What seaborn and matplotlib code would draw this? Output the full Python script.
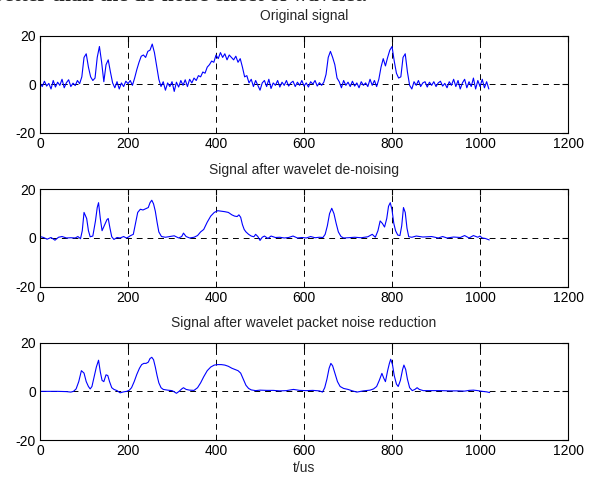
import numpy as np
import pandas as pd
import matplotlib
matplotlib.use("Agg")
import matplotlib.pyplot as plt
import seaborn as sns

# ---- data -------------------------------------------------------------
# raw measurement, one value every 5 us starting at t = 0
raw_step = 5
raw_signal = [
    0.5, -1.0, 1.2, -0.8, 0.3, -2.0, 1.5, -1.2, 0.8, -0.5, 2.0, -1.5, 0.6, 1.8, -1.0, 0.4, -0.6, 1.5, 0.2, 3.0,
    11.0, 12.5, 7.0, 3.0, 1.5, 2.5, 11.0, 15.5, 9.0, 1.0, 8.0, 10.0, 5.0, 0.5, -1.5, 1.0, -2.0, 0.5, -1.0, 1.2,
    0.2, 1.5, -0.5, 2.5, 6.0, 9.0, 11.5, 12.0, 11.0, 13.5, 14.0, 16.5, 13.0, 7.5, 2.0, -1.0, 1.0, -2.5, 0.5, -1.0,
    1.0, -3.0, 0.8, -1.2, 1.5, -0.5, 1.8, -1.0, 2.0, 0.5, 2.5, 1.5, 3.5, 3.0, 5.0, 4.5, 7.0, 8.0, 9.5, 9.0,
    12.0, 10.5, 13.0, 11.0, 12.5, 10.0, 12.0, 11.0, 10.0, 11.5, 9.0, 10.5, 7.0, 3.0, 3.5, 0.5, 2.0, -1.0, 1.5, -0.5,
    -2.5, 0.5, 1.5, -1.0, 2.0, -1.8, 0.5, -0.5, 1.5, -1.2, 0.8, -0.5, 1.5, -0.8, 0.5, 1.2, -1.0, 0.8, -0.5, 1.5,
    -0.8, 0.5, -1.2, 1.0, 0.0, 1.5, -0.8, 0.6, -0.5, 0.8, 4.0, 11.0, 13.5, 11.0, 8.0, 2.5, 1.0, -1.5, 1.5, -0.5,
    0.8, -1.0, 1.2, -0.8, 0.5, -1.5, 1.0, -0.5, 0.5, -1.0, 2.0, -0.5, 1.5, -1.0, 2.0, 7.0, 10.5, 7.5, 11.0, 14.0,
    15.5, 9.5, 4.5, 2.5, 3.0, 11.0, 12.5, 5.0, -0.5, -2.0, 1.0, -0.5, 1.5, -1.0, 0.5, 1.0, -1.2, 0.8, -0.5, 1.0,
    -1.0, 0.5, 1.2, -0.8, 0.3, -1.5, 1.0, -0.5, 2.0, -1.0, 1.5, -2.0, 0.5, 2.0, -1.5, 1.0, -1.0, 2.5, -2.0, 1.5,
    -1.0, 2.0, -1.5, 1.0, -2.0,
]
raw_t = np.arange(len(raw_signal)) * raw_step

# wavelet threshold de-noising result
wavelet_t = [
    0, 8, 16, 25, 34, 42, 50, 60, 70, 80,
    86, 92, 96, 100, 106, 110, 114, 120, 126, 130,
    133, 137, 141, 147, 152, 155, 159, 163, 168, 175,
    182, 190, 196, 200, 206, 212, 217, 222, 228, 234,
    240, 246, 250, 254, 258, 262, 266, 270, 276, 285,
    295, 305, 315, 322, 326, 332, 340, 350, 358, 365,
    372, 380, 388, 396, 404, 412, 420, 428, 436, 442,
    448, 452, 456, 460, 464, 468, 474, 480, 486, 490,
    495, 500, 505, 510, 518, 525, 535, 545, 555, 565,
    575, 585, 595, 605, 615, 625, 635, 643, 648, 653,
    658, 663, 668, 673, 678, 684, 690, 700, 715, 730,
    745, 755, 762, 768, 773, 778, 783, 788, 792, 796,
    800, 804, 808, 813, 818, 822, 826, 830, 834, 838,
    845, 855, 870, 890, 905, 915, 925, 940, 955, 965,
    975, 985, 995, 1000, 1005, 1012, 1021,
]
wavelet_signal = [
    0.6, 0.2, -0.5, 0.2, -0.9, 0.3, 0.6, 0.0, 0.1, 0.0,
    0.6, -0.3, 3.0, 10.5, 8.0, 3.0, 0.5, 0.8, 7.0, 12.5,
    14.5, 8.0, 3.0, 5.5, 7.5, 8.0, 4.0, 0.5, -0.6, 0.2,
    0.0, 0.6, 0.0, 0.3, 1.0, 1.5, 6.0, 10.5, 11.8, 11.5,
    12.0, 12.5, 14.5, 15.5, 14.0, 11.0, 6.5, 2.5, 0.6, 0.3,
    0.6, 0.9, 0.0, 0.6, 2.0, 0.6, 0.0, 0.3, 1.0, 2.5,
    3.5, 6.5, 9.0, 10.5, 11.2, 11.0, 10.8, 10.5, 9.5, 9.0,
    8.8, 9.5, 8.5, 5.5, 3.5, 2.5, 1.5, 0.8, 0.5, 1.5,
    0.6, -1.0, 0.3, 0.8, -0.2, 0.8, 0.2, 0.3, 0.0, 0.2,
    0.8, 0.0, 0.2, 0.0, 0.6, 0.1, 0.3, 0.2, 1.5, 5.0,
    10.0, 12.2, 10.0, 6.0, 2.5, 0.6, 0.0, 0.1, 0.3, 0.1,
    0.5, 1.5, 0.3, 3.0, 7.0, 6.0, 4.5, 8.0, 13.0, 14.5,
    11.5, 6.0, 3.0, 1.2, 1.0, 5.0, 12.5, 10.5, 4.0, 0.5,
    0.3, 0.8, 0.4, 0.6, 0.0, 0.6, 0.0, 0.4, 0.2, 1.0,
    0.0, 1.0, 0.3, 0.8, 0.0, -0.2, -0.8,
]

# wavelet packet noise reduction result
packet_t = [
    0, 20, 40, 60, 70, 76, 82, 88, 94, 100,
    105, 110, 114, 118, 123, 128, 133, 137, 141, 145,
    150, 154, 158, 163, 168, 175, 182, 190, 197, 203,
    208, 214, 220, 226, 231, 236, 241, 246, 250, 254,
    258, 262, 266, 270, 275, 280, 290, 300, 305, 310,
    316, 322, 326, 332, 340, 350, 358, 365, 372, 380,
    388, 396, 404, 412, 420, 428, 436, 443, 450, 456,
    462, 468, 474, 480, 490, 500, 515, 530, 545, 560,
    576, 590, 605, 620, 635, 642, 647, 652, 657, 661,
    665, 670, 676, 682, 690, 700, 710, 720, 735, 750,
    758, 765, 771, 777, 781, 785, 790, 794, 797, 801,
    805, 810, 814, 819, 824, 827, 831, 835, 840, 846,
    852, 857, 862, 871, 890, 910, 930, 950, 965, 975,
    985, 995, 1005, 1015, 1022,
]
packet_signal = [
    0.0, 0.0, 0.0, -0.1, -0.3, 0.0, 1.0, 4.0, 8.5, 7.5,
    4.0, 2.0, 1.0, 2.0, 6.0, 10.0, 12.8, 8.0, 4.5, 4.0,
    6.8, 6.5, 4.0, 1.5, 0.8, 0.3, -0.6, -0.2, 0.0, 0.5,
    1.5, 4.0, 7.0, 9.5, 11.0, 11.5, 11.5, 12.0, 13.5, 14.0,
    13.0, 10.0, 6.5, 3.5, 1.5, 0.8, 0.5, 0.3, -0.2, -0.8,
    0.0, 1.0, 1.5, 0.8, 0.5, 0.4, 1.5, 3.5, 6.0, 8.5,
    10.0, 10.8, 11.0, 11.0, 10.8, 10.3, 9.5, 9.0, 8.5, 7.5,
    5.0, 2.5, 1.2, 0.6, 0.3, 0.5, 0.4, 0.4, 0.2, 0.3,
    0.8, 0.4, 0.3, 0.4, 0.2, -0.3, 1.5, 5.0, 9.5, 11.5,
    10.5, 7.5, 4.0, 2.0, 1.2, 0.8, 0.2, -0.3, 0.2, 0.5,
    1.0, 2.0, 4.5, 7.4, 5.5, 4.0, 8.5, 11.5, 13.2, 11.0,
    6.5, 3.0, 2.0, 4.5, 9.0, 10.8, 9.0, 5.0, 1.5, 0.3,
    0.8, 1.5, 0.8, 0.3, 0.3, 0.3, 0.2, 0.2, 0.1, 0.4,
    0.5, 0.3, 0.0, -0.2, -0.5,
]

panel_titles = [
    "Original signal",
    "Signal after wavelet de-noising",
    "Signal after wavelet packet noise reduction",
]
x_ticks = [0, 200, 400, 600, 800, 1000, 1200]
y_ticks = [-20, 0, 20]
x_label = "t/us"

# ---- style ------------------------------------------------------------
sns.set_style("white")
plt.rcParams["font.family"] = ["Liberation Sans", "DejaVu Sans"]
plt.rcParams["font.size"] = 10

fig = plt.figure(figsize=(5.93, 4.82), dpi=100)
fig.patch.set_facecolor("white")

# axes rectangles: left, bottom, width, height (figure fraction)
boxes = [
    [0.0675, 0.7247, 0.8904, 0.2015],
    [0.0675, 0.4052, 0.8904, 0.2021],
    [0.0675, 0.0871, 0.8904, 0.2019],
]

series = [
    (raw_t, raw_signal),
    (wavelet_t, wavelet_signal),
    (packet_t, packet_signal),
]

for i, (box, (tt, yy), title) in enumerate(zip(boxes, series, panel_titles)):
    ax = fig.add_axes(box)
    df = pd.DataFrame({"t": tt, "v": yy})
    sns.lineplot(data=df, x="t", y="v", ax=ax, color="#0000ff",
                 linewidth=0.8, estimator=None, sort=False)
    ax.set_xlim(0, 1200)
    ax.set_ylim(-20, 20)
    ax.set_xticks(x_ticks)
    ax.set_yticks(y_ticks)
    ax.set_xticklabels([str(v) for v in x_ticks])
    ax.set_yticklabels([str(v) for v in y_ticks])
    ax.grid(True, color="black", linestyle=(0, (6, 5)), linewidth=0.7)
    ax.set_axisbelow(True)
    ax.tick_params(direction="in", length=4, width=0.8, colors="black",
                   top=True, right=True, labelsize=10, pad=3)
    for sp in ax.spines.values():
        sp.set_visible(True)
        sp.set_color("black")
        sp.set_linewidth(0.8)
    ax.set_title(title, fontsize=10, pad=11)
    ax.set_ylabel("")
    if i == 2:
        ax.set_xlabel(x_label, fontsize=10, labelpad=2)
    else:
        ax.set_xlabel("")

# closing words of the preceding paragraph, running off the top edge
fig.text(-0.0135, 0.9975, "better than the de-noise effect of wavelet.",
         ha="left", va="baseline", fontsize=15.5, fontweight="bold",
         family=["Liberation Serif", "DejaVu Serif"])

fig.savefig("out.png", dpi=100, facecolor="white")
